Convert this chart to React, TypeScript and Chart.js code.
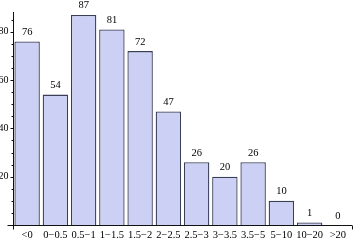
import React, { useEffect, useRef } from "react";
import { Chart, registerables } from "chart.js";

Chart.register(...registerables);

const categories = ["<0", "0\u22120.5", "0.5\u22121", "1\u22121.5", "1.5\u22122", "2\u22122.5", "2.5\u22123", "3\u22123.5", "3.5\u22125", "5\u221210", "10\u221220", ">20"];
const counts = [76, 54, 87, 81, 72, 47, 26, 20, 26, 10, 1, 0];
const yMajorTicks = [20, 40, 60, 80];

const FONT = "'Liberation Serif', 'DejaVu Serif', serif";
const AXIS_COLOR = "#111";

const axesPlugin = {
  id: "mmaAxes",
  afterDatasetsDraw(chart: any) {
    const { ctx, scales } = chart;
    const x = scales.x;
    const y = scales.y;
    const x0 = Math.round(x.left) + 0.5;
    const y0 = Math.round(y.getPixelForValue(0)) + 0.5;
    ctx.save();
    ctx.strokeStyle = AXIS_COLOR;
    ctx.lineWidth = 1;
    // x axis
    ctx.beginPath();
    ctx.moveTo(x0 - 6, y0);
    ctx.lineTo(x.right, y0);
    ctx.moveTo(Math.round(x.right) + 0.5, y0);
    ctx.lineTo(Math.round(x.right) + 0.5, y0 + 4);
    // y axis
    ctx.moveTo(x0, y.top);
    ctx.lineTo(x0, y0 + 4);
    ctx.stroke();
    // y ticks
    ctx.beginPath();
    for (let v = 5; v <= y.max; v += 5) {
      const py = Math.round(y.getPixelForValue(v)) + 0.5;
      const major = v % 20 === 0;
      ctx.moveTo(x0 - (major ? 3 : 2), py);
      ctx.lineTo(x0, py);
    }
    ctx.stroke();
    ctx.fillStyle = "#000";
    ctx.font = `10px ${FONT}`;
    ctx.textAlign = "right";
    ctx.textBaseline = "middle";
    yMajorTicks.forEach((v) => {
      ctx.fillText(String(v), x0 - 5, y.getPixelForValue(v));
    });
    // data labels
    ctx.textAlign = "center";
    ctx.textBaseline = "bottom";
    ctx.font = `10.5px ${FONT}`;
    const meta = chart.getDatasetMeta(0);
    meta.data.forEach((el: any, i: number) => {
      ctx.fillText(String(counts[i]), el.x, el.y - 4);
    });
    ctx.restore();
  },
};

export default function App() {
  const ref = useRef<HTMLCanvasElement>(null);
  useEffect(() => {
    if (!ref.current) return;
    const chart = new Chart(ref.current, {
      type: "bar",
      data: {
        labels: categories,
        datasets: [
          {
            data: counts,
            backgroundColor: "#cbd0f4",
            borderColor: "#3a3f58",
            borderWidth: 1.3,
            barPercentage: 0.9,
            categoryPercentage: 1,
          },
        ],
      },
      options: {
        animation: false,
        responsive: false,
        maintainAspectRatio: false,
        layout: { padding: { top: 12, right: 8, left: 0, bottom: 0 } },
        plugins: { legend: { display: false }, tooltip: { enabled: false } },
        scales: {
          x: {
            grid: { display: false, drawTicks: false },
            border: { display: false },
            ticks: { color: "#000", font: { family: FONT, size: 10.5 }, padding: 4, maxRotation: 0, autoSkip: false },
            afterFit: (s: any) => {
              s.height = 18;
            },
          },
          y: {
            min: 0,
            max: 88.2,
            grid: { display: false, drawTicks: false },
            border: { display: false },
            ticks: { display: false },
            afterFit: (s: any) => {
              s.width = 13;
            },
          },
        },
      },
      plugins: [axesPlugin],
    });
    return () => chart.destroy();
  }, []);
  return (
    <div style={{ position: "fixed", left: 0, top: 0, width: 360, height: 243, background: "#fff" }}>
      <canvas ref={ref} width={360} height={243} style={{ width: 360, height: 243, display: "block" }} />
    </div>
  );
}
